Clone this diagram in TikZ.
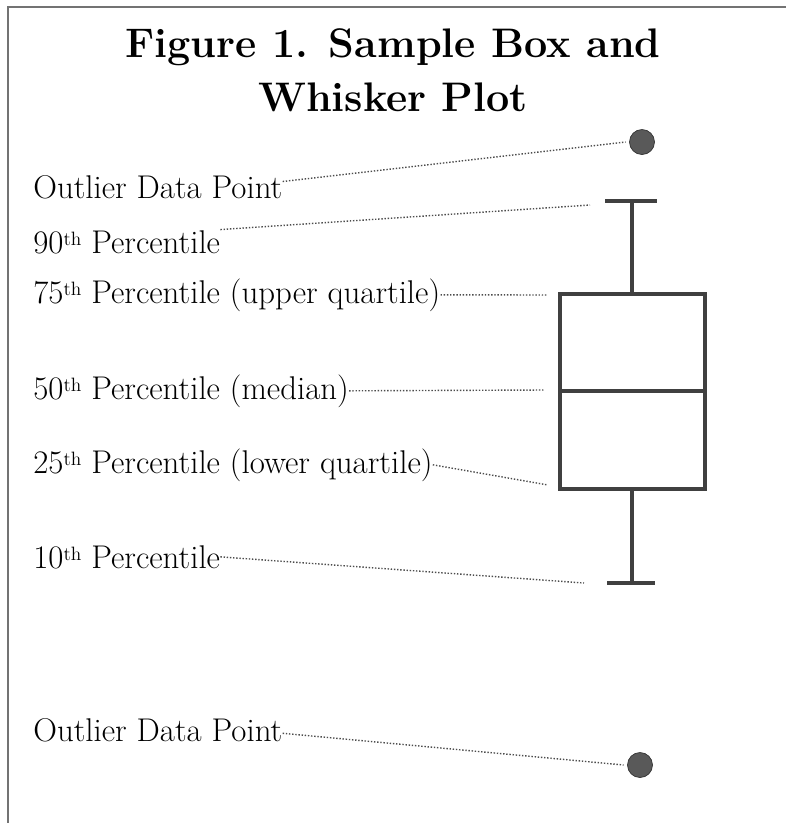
\documentclass[tikz,border=0pt]{standalone}
\usepackage{fontspec}
\usepackage{tikz}
\usetikzlibrary{positioning}

\newcommand{\ordsup}[1]{#1\raisebox{0.55ex}{\fontsize{11}{11}\selectfont th}}

\tikzset{
  lbl/.style={anchor=base west, inner sep=0pt, font=\fontsize{18.7}{22}\selectfont},
  leader/.style={densely dotted, black!70, line width=0.8pt},
  boxline/.style={line width=2.7pt, draw=black!75},
  outlier/.style={circle, fill=black!65, draw=black!80, minimum size=0.5cm, inner sep=0pt}
}

\begin{document}
\begin{tikzpicture}[x=0.02cm, y=-0.02cm]
        \useasboundingbox (0, 0) rectangle (786, 823);
        \draw[black!55, line width=0.6pt] (8, 823) -- (8, 7) -- (786, 7);

        % title
        \node[align=center, font=\bfseries\fontsize{23.5}{31}\selectfont] (title) at (393, 70)
            {Figure 1. Sample Box and\\Whisker Plot};

        % labels
        \node[lbl] (outtop) at (33, 198) {Outlier Data Point};
        \node[lbl] (p90) at (33, 253) {\ordsup{90} Percentile};
        \node[lbl] (p75) at (33, 303) {\ordsup{75} Percentile (upper quartile)};
        \node[lbl] (p50) at (33, 399) {\ordsup{50} Percentile (median)};
        \node[lbl] (p25) at (33, 473) {\ordsup{25} Percentile (lower quartile)};
        \node[lbl] (p10) at (33, 568) {\ordsup{10} Percentile};
        \node[lbl] (outbot) at (33, 741) {Outlier Data Point};

        % box and whiskers
        \coordinate (q3l) at (560, 294);
        \coordinate (q1r) at (705, 489);
        \draw[boxline] (q3l) rectangle (q1r);
        \draw[boxline] (560, 391) -- (705, 391);
        \draw[boxline] (632, 294) -- (632, 201);
        \draw[boxline] (605, 201) -- (657, 201);
        \draw[boxline] (632, 489) -- (632, 583);
        \draw[boxline] (607, 583) -- (655, 583);

        \node[outlier] (dottop) at (642, 142) {};
        \node[outlier] (dotbot) at (640, 765) {};

        % leader ends
        \coordinate (e90) at (590, 205);
        \coordinate (e75) at (548, 295);
        \coordinate (e50) at (545, 390);
        \coordinate (e25) at (548, 485);
        \coordinate (e10) at (584, 583);

        \draw[leader] ([yshift=3pt]outtop.east) -- ([xshift=-2pt]dottop.west);
        \draw[leader] ([yshift=7pt]p90.east) -- (e90);
        \draw[leader] (p75.east) -- (e75);
        \draw[leader] (p50.east) -- (e50);
        \draw[leader] (p25.east) -- (e25);
        \draw[leader] (p10.east) -- (e10);
        \draw[leader] ([yshift=-2pt]outbot.east) -- ([xshift=-2pt]dotbot.west);
    \end{tikzpicture}
\end{document}
